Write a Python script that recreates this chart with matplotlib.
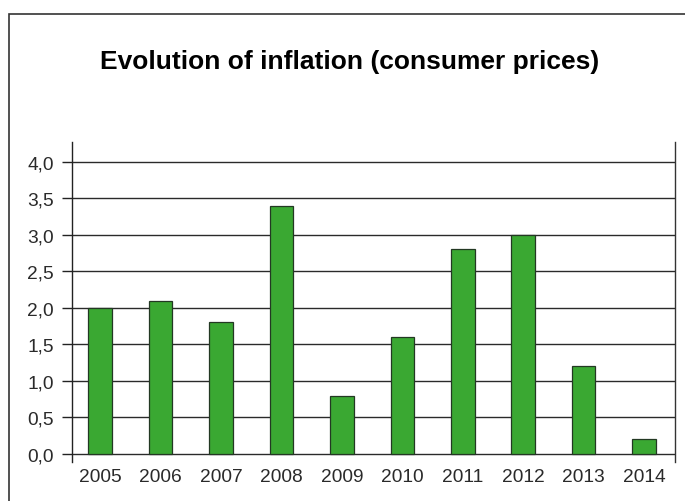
import matplotlib.pyplot as plt
from matplotlib.patches import Rectangle

plt.rcParams['font.family'] = ['Liberation Sans', 'DejaVu Sans']

years = ['2005', '2006', '2007', '2008', '2009', '2010', '2011', '2012', '2013', '2014']
inflation = [2.0, 2.1, 1.8, 3.4, 0.8, 1.6, 2.8, 3.0, 1.2, 0.2]
y_ticks = [0.0, 0.5, 1.0, 1.5, 2.0, 2.5, 3.0, 3.5, 4.0]
y_labels = ['0,0', '0,5', '1,0', '1,5', '2,0', '2,5', '3,0', '3,5', '4,0']

fig = plt.figure(figsize=(6.85, 5.02), dpi=100)
fig.patch.set_facecolor('white')

# outer frame (runs off the right and bottom edges)
fig.patches.append(Rectangle((9 / 685, -0.1), 1.0, 1.1 - 15 / 502,
                             transform=fig.transFigure, fill=False,
                             edgecolor='#333333', linewidth=1.2))

ax = fig.add_axes([72 / 685, 1 - 463 / 502, (675 - 72) / 685, (463 - 143) / 502])

x = range(len(years))
ax.bar(x, inflation, width=0.39, color='#3aa832', edgecolor='#233823',
       linewidth=0.9, zorder=3)

ax.set_xlim(-0.463, 9.51)
ax.set_ylim(-0.11, 4.27)

ax.set_yticks(y_ticks)
ax.set_yticklabels(y_labels)
ax.set_xticks(list(x))
ax.set_xticklabels(years)

ax.tick_params(axis='y', length=7.2, width=1.0, color='#222222', pad=6,
               labelsize=13.8, labelcolor='#2a2a2a')
ax.tick_params(axis='x', length=0, pad=4, labelsize=13.8, labelcolor='#2a2a2a')

ax.grid(axis='y', color='#2a2a2a', linewidth=1.0, zorder=1)
ax.set_axisbelow(True)

ax.spines['top'].set_visible(False)
ax.spines['bottom'].set_visible(False)
ax.spines['left'].set_color('#222222')
ax.spines['right'].set_color('#333333')
ax.spines['left'].set_linewidth(1.0)
ax.spines['right'].set_linewidth(1.0)

fig.text(350 / 685, 1 - 69 / 502, 'Evolution of inflation (consumer prices)',
         ha='center', va='baseline', fontsize=19, fontweight='bold', color='black')

fig.savefig('out.png', dpi=100)
